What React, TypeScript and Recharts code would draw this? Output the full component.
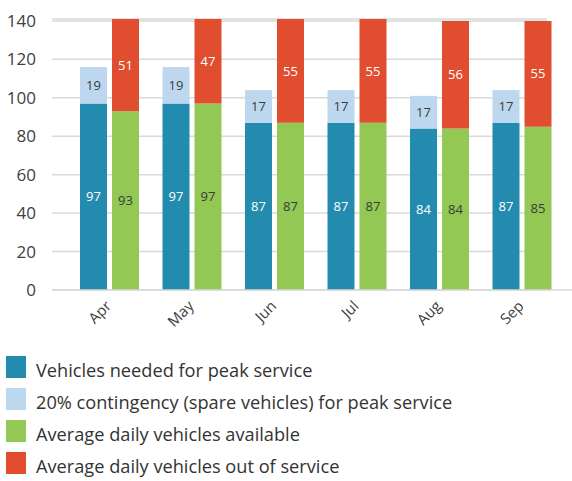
import React from 'react';
import { BarChart, Bar, XAxis, YAxis, CartesianGrid, Legend, LabelList } from 'recharts';

const months = ['Apr', 'May', 'Jun', 'Jul', 'Aug', 'Sep'];
const needed = [97, 97, 87, 87, 84, 87];
const contingency = [19, 19, 17, 17, 17, 17];
const available = [93, 97, 87, 87, 84, 85];
const outOfService = [51, 47, 55, 55, 56, 55];
const yTicks = [0, 20, 40, 60, 80, 100, 120, 140];

const series = [
  { key: 'needed', name: 'Vehicles needed for peak service', color: '#238BAD', stack: 'a', labelColor: '#ffffff' },
  { key: 'contingency', name: '20% contingency (spare vehicles) for peak service', color: '#BDD8EE', stack: 'a', labelColor: '#3a3a3a' },
  { key: 'available', name: 'Average daily vehicles available', color: '#92C853', stack: 'b', labelColor: '#3a3a3a' },
  { key: 'out', name: 'Average daily vehicles out of service', color: '#E14E2F', stack: 'b', labelColor: '#ffffff' },
];

const data = months.map((m, i) => ({
  month: m,
  needed: needed[i],
  contingency: contingency[i],
  available: available[i],
  out: outOfService[i],
}));

const FONT = '"Open Sans", sans-serif';

const XTick = (props: any) => {
  const { x, y, payload } = props;
  return (
    <g transform={`translate(${x + 3},${y})`}>
      <text x={0} y={0} textAnchor="end" transform="rotate(-45)" fill="#404040" fontSize={15} fontFamily={FONT}>
        {payload.value}
      </text>
    </g>
  );
};

const LegendContent = () => (
  <div style={{ height: 131, paddingTop: 6, boxSizing: 'border-box', fontFamily: FONT }}>
    {series.map((s) => (
      <div key={s.key} style={{ position: 'relative', height: 32 }}>
        <div style={{ position: 'absolute', left: 6, top: 0, width: 20, height: 22, background: s.color }} />
        <div style={{ position: 'absolute', left: 36, top: 3, fontSize: 18.2, lineHeight: '22px', color: '#333', whiteSpace: 'nowrap' }}>
          {s.name}
        </div>
      </div>
    ))}
  </div>
);

export default function App() {
  return (
    <div style={{ position: 'absolute', left: 0, top: 0, width: 572, height: 481, background: '#fff' }}>
      <BarChart
        width={572}
        height={481}
        data={data}
        margin={{ top: 19, right: 0, bottom: 0, left: 0 }}
        barSize={27}
        barGap={5}
      >
        <CartesianGrid vertical={false} stroke="#d9d9d9" strokeWidth={1.5} width={495} />
        <XAxis
          dataKey="month"
          height={60}
          axisLine={{ stroke: '#d9d9d9', strokeWidth: 1.5 }}
          tickLine={false}
          tickSize={0}
          tickMargin={17}
          padding={{ left: 16, right: 9 }}
          tick={<XTick />}
          interval={0}
        />
        <YAxis
          width={52}
          domain={[0, 141]}
          allowDataOverflow
          ticks={yTicks}
          axisLine={false}
          tickLine={false}
          tickSize={0}
          tickMargin={16}
          tick={{ fill: '#404040', fontSize: 17, fontFamily: FONT }}
        />
        {series.map((s) => (
          <Bar key={s.key} dataKey={s.key} name={s.name} stackId={s.stack} fill={s.color} isAnimationActive={false}>
            <LabelList dataKey={s.key} position="center" fill={s.labelColor} fontSize={13} fontFamily={FONT} />
          </Bar>
        ))}
        <Legend verticalAlign="bottom" align="left" content={<LegendContent />} />
      </BarChart>
    </div>
  );
}
